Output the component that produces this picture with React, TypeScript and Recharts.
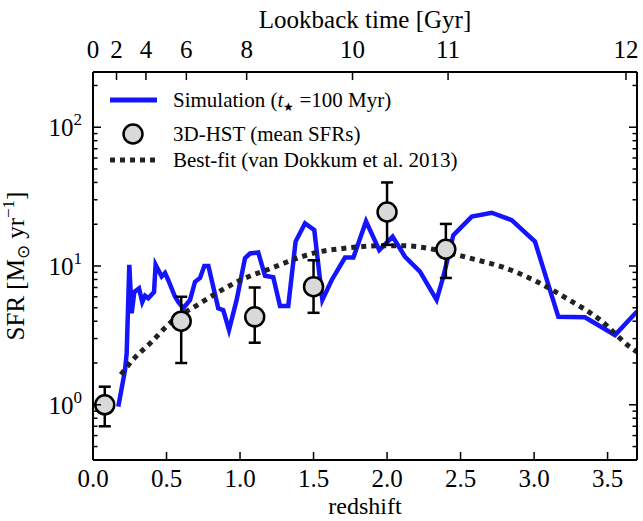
import {
  ComposedChart,
  Line,
  Scatter,
  ErrorBar,
  XAxis,
  YAxis,
  Legend,
} from "recharts";

const FONT = '"Liberation Serif", "Times New Roman", serif';
const BLUE = "#1414ff";

// simulation SFR (t* = 100 Myr)
const simZ = [
  0.172, 0.218, 0.229, 0.247, 0.263, 0.281, 0.313, 0.335, 0.354, 0.376, 0.415,
  0.426, 0.467, 0.49, 0.512, 0.558, 0.58, 0.614, 0.66, 0.694, 0.728, 0.757,
  0.785, 0.852, 0.886, 0.925, 0.977, 1.034, 1.068, 1.124, 1.17, 1.226, 1.272,
  1.328, 1.378, 1.442, 1.505, 1.56, 1.623, 1.714, 1.771, 1.857, 1.947, 2.038,
  2.121, 2.224, 2.337, 2.383, 2.451, 2.576, 2.712, 2.848, 3.006, 3.165, 3.346,
  3.55, 3.7,
];
const simSfr = [
  0.97, 1.78, 2.35, 10.2, 4.56, 6.5, 6.9, 5.5, 6.1, 5.85, 6.5, 10.2, 8.4, 8.9,
  7.9, 6.0, 5.5, 4.96, 5.7, 7.7, 8.2, 10.0, 10.0, 4.96, 4.8, 3.46, 5.7, 11.4,
  12.3, 12.5, 8.5, 8.3, 5.15, 5.15, 15.0, 20.3, 18.2, 5.7, 7.9, 11.5, 11.5,
  21.0, 13.0, 16.3, 11.7, 9.1, 5.7, 8.4, 16.7, 22.7, 24.2, 21.4, 15.0, 4.3,
  4.27, 3.18, 4.7,
];

// 3D-HST mean SFRs
const obsZ = [0.08, 0.6, 1.1, 1.5, 2.0, 2.4];
const obsSfr = [1.0, 4.0, 4.3, 7.1, 24.5, 13.2];
const obsErrLow = [0.3, 2.0, 1.5, 2.5, 10.3, 5.0];
const obsErrHigh = [0.35, 2.0, 2.7, 3.9, 15.5, 6.9];

// best-fit, van Dokkum et al. 2013
const fitZ = [
  0.19, 0.27, 0.4, 0.52, 0.73, 0.875, 1.03, 1.21, 1.37, 1.53, 1.68, 1.83, 1.95,
  2.1, 2.2, 2.36, 2.59, 2.79, 3.02, 3.22, 3.45, 3.65, 3.7,
];
const fitSfr = [
  1.65, 2.1, 2.85, 3.85, 5.4, 6.7, 8.15, 9.6, 11.2, 12.6, 13.3, 13.8, 14.0,
  14.0, 13.8, 12.9, 11.2, 9.8, 7.7, 5.85, 4.08, 2.62, 2.4,
];

// axes
const redshiftTicks = [0, 0.5, 1, 1.5, 2, 2.5, 3, 3.5];
const lookbackLabels = ["0", "2", "4", "6", "8", "10", "11", "12"];
const lookbackZ = [0, 0.16, 0.36, 0.635, 1.045, 1.765, 2.415, 3.625];
const sfrTicks = [
  0.4, 0.5, 0.6, 0.7, 0.8, 0.9, 1, 2, 3, 4, 5, 6, 7, 8, 9, 10, 20, 30, 40, 50,
  60, 70, 80, 90, 100, 200,
];

const simData = simZ.map((z, i) => ({ z, sfr: simSfr[i] }));
const obsData = obsZ.map((z, i) => ({
  z,
  sfr: obsSfr[i],
  err: [obsErrLow[i], obsErrHigh[i]],
}));
const fitData = fitZ.map((z, i) => ({ z, sfr: fitSfr[i] }));

const isMajor = (v: number) => {
  const e = Math.log10(v);
  return Math.abs(e - Math.round(e)) < 1e-6;
};

function LeftTick({ x, y, payload }: any) {
  const v = payload.value;
  const major = isMajor(v);
  return (
    <g>
      <line x1={x} x2={x + (major ? 8 : 4.5)} y1={y} y2={y} stroke="#000" strokeWidth={1.5} />
      {major && (
        <text x={x - 11} y={y + 9} textAnchor="end" fontFamily={FONT} fontSize={25} fill="#000">
          10
          <tspan dy={-11} fontSize={17}>
            {Math.round(Math.log10(v))}
          </tspan>
        </text>
      )}
    </g>
  );
}

function RightTick({ x, y, payload }: any) {
  const major = isMajor(payload.value);
  return <line x1={x} x2={x - (major ? 8 : 4.5)} y1={y} y2={y} stroke="#000" strokeWidth={1.5} />;
}

function BottomTick({ x, y, payload }: any) {
  return (
    <g>
      <line x1={x} x2={x} y1={y} y2={y - 8} stroke="#000" strokeWidth={1.5} />
      <text x={x} y={y + 27} textAnchor="middle" fontFamily={FONT} fontSize={25} fill="#000">
        {Number(payload.value).toFixed(1)}
      </text>
    </g>
  );
}

function TopTick({ x, y, payload }: any) {
  const idx = lookbackZ.indexOf(payload.value);
  return (
    <g>
      <line x1={x} x2={x} y1={y} y2={y + 8} stroke="#000" strokeWidth={1.5} />
      <text x={x} y={y - 14} textAnchor="middle" fontFamily={FONT} fontSize={25} fill="#000">
        {lookbackLabels[idx]}
      </text>
    </g>
  );
}

function ObsMarker({ cx, cy }: any) {
  return <circle cx={cx} cy={cy} r={9.5} fill="#d9d9d9" stroke="#000" strokeWidth={2.5} />;
}

function ChartLegend() {
  const row = (top: number, icon: any, label: any) => (
    <div
      style={{
        position: "absolute",
        left: 0,
        top,
        height: 28,
        display: "flex",
        alignItems: "center",
        whiteSpace: "nowrap",
      }}
    >
      <svg width={52} height={28} style={{ marginRight: 14 }}>
        {icon}
      </svg>
      <span>{label}</span>
    </div>
  );
  return (
    <div
      style={{
        position: "relative",
        width: 400,
        height: 100,
        fontFamily: FONT,
        fontSize: 21,
        color: "#000",
        lineHeight: 1,
      }}
    >
      {row(
        0,
        <line x1={3} x2={50} y1={14} y2={14} stroke={BLUE} strokeWidth={5} />,
        <>
          Simulation (<i>t</i>
          <span style={{ fontSize: 12, position: "relative", top: 4 }}>★</span> =100 Myr)
        </>
      )}
      {row(
        34,
        <circle cx={26} cy={14} r={9.5} fill="#d9d9d9" stroke="#000" strokeWidth={2.5} />,
        "3D-HST (mean SFRs)"
      )}
      {row(
        60,
        <line x1={3} x2={50} y1={14} y2={14} stroke="#222" strokeWidth={5} strokeDasharray="5 5" />,
        "Best-fit (van Dokkum et al. 2013)"
      )}
    </div>
  );
}

export default function App() {
  return (
    <div style={{ width: 643, height: 521, background: "#fff" }}>
      <style>{`body{margin:0}`}</style>
      <ComposedChart width={643} height={521} margin={{ top: 0, right: 0, bottom: 0, left: 0 }}>
        <XAxis
          dataKey="z"
          type="number"
          domain={[0, 3.7]}
          allowDataOverflow
          ticks={redshiftTicks}
          interval={0}
          height={61}
          tickSize={0}
          tickMargin={0}
          tickLine={false}
          tick={<BottomTick />}
          axisLine={{ stroke: "#000", strokeWidth: 2 }}
          label={({ viewBox }: any) => (
            <text
              x={viewBox.x + viewBox.width / 2}
              y={514}
              textAnchor="middle"
              fontFamily={FONT}
              fontSize={24}
              fill="#000"
            >
              redshift
            </text>
          )}
        />
        <XAxis
          xAxisId="top"
          orientation="top"
          dataKey="z"
          type="number"
          domain={[0, 3.7]}
          allowDataOverflow
          ticks={lookbackZ}
          interval={0}
          height={72}
          tickSize={0}
          tickMargin={0}
          tickLine={false}
          tick={<TopTick />}
          axisLine={{ stroke: "#000", strokeWidth: 2 }}
          label={({ viewBox }: any) => (
            <text
              x={viewBox.x + viewBox.width / 2}
              y={28}
              textAnchor="middle"
              fontFamily={FONT}
              fontSize={25}
              fill="#000"
            >
              Lookback time [Gyr]
            </text>
          )}
        />
        <YAxis
          scale="log"
          type="number"
          domain={[0.4, 250]}
          allowDataOverflow
          ticks={sfrTicks}
          interval={0}
          width={93}
          tickSize={0}
          tickMargin={0}
          tickLine={false}
          tick={<LeftTick />}
          axisLine={{ stroke: "#000", strokeWidth: 2 }}
          label={({ viewBox }: any) => (
            <text
              transform={`translate(24, ${viewBox.y + viewBox.height / 2}) rotate(-90)`}
              textAnchor="middle"
              fontFamily={FONT}
              fontSize={25}
              fill="#000"
            >
              SFR [M
              <tspan dy={5} fontSize={17}>
                ⊙
              </tspan>
              <tspan dy={-5}> yr</tspan>
              <tspan dy={-10} fontSize={17}>
                −1
              </tspan>
              <tspan dy={10}>]</tspan>
            </text>
          )}
        />
        <YAxis
          yAxisId="right"
          orientation="right"
          scale="log"
          type="number"
          domain={[0.4, 250]}
          allowDataOverflow
          ticks={sfrTicks}
          interval={0}
          width={6}
          tickSize={0}
          tickMargin={0}
          tickLine={false}
          tick={<RightTick />}
          axisLine={{ stroke: "#000", strokeWidth: 2 }}
        />
        <Line
          data={simData}
          dataKey="sfr"
          type="linear"
          stroke={BLUE}
          strokeWidth={4.5}
          dot={false}
          isAnimationActive={false}
        />
        <Line
          data={fitData}
          dataKey="sfr"
          type="monotone"
          stroke="#222"
          strokeWidth={5}
          strokeDasharray="5 5"
          dot={false}
          isAnimationActive={false}
        />
        <Scatter data={obsData} dataKey="sfr" shape={<ObsMarker />} isAnimationActive={false}>
          <ErrorBar dataKey="err" direction="y" width={6} stroke="#000" strokeWidth={2.5} />
        </Scatter>
        <Legend
          layout="vertical"
          align="center"
          verticalAlign="middle"
          content={<ChartLegend />}
          wrapperStyle={{ position: "absolute", left: 107, top: 86, width: 400, height: 100 }}
        />
      </ComposedChart>
    </div>
  );
}
